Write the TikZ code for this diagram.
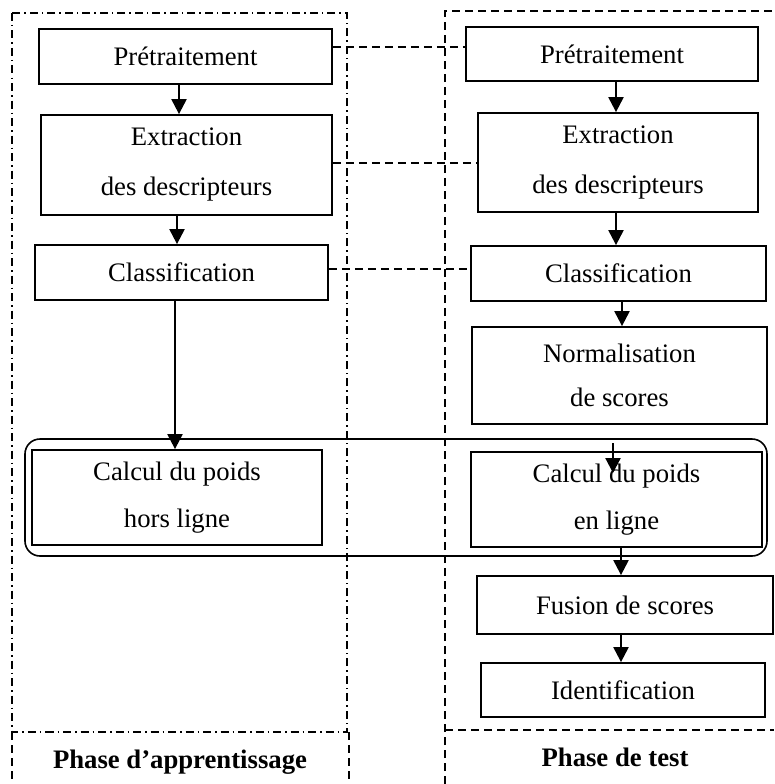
\documentclass[tikz,border=0pt]{standalone}
\usepackage{fontspec}
\setmainfont{Liberation Serif}
\usetikzlibrary{arrows.meta,calc}
\begin{document}
\begin{tikzpicture}[x=1pt,y=-1pt,
  box/.style={draw,line width=1.8pt,rectangle,inner sep=0pt,align=center,font=\fontsize{26.7}{47}\selectfont},
  arr/.style={line width=2.2pt,-{Triangle[length=15pt,width=15pt]}},
  dsh/.style={line width=1.3pt,dash pattern=on 8pt off 5pt},
  dshdot/.style={line width=1.3pt,dash pattern=on 8pt off 4pt on 1.5pt off 4pt},
  lbl/.style={font=\fontsize{26.7}{32}\selectfont\bfseries}]
\useasboundingbox (0,0) rectangle (774,784);
% frames
\draw[dshdot] (12,13) rectangle (347,732);
\draw[dsh] (12,732) -- (12,784);
\draw[dsh] (349,732) -- (349,784);
\draw[dsh] (445,784) -- (445,11) -- (774,11);
\draw[dsh] (445,730) -- (774,730);
\draw[line width=1.6pt,rounded corners=15pt] (25,439) rectangle (767,556);
% left column
\node[box,minimum width=293pt,minimum height=55pt] (pre1) at (185.5,56.5) {Prétraitement};
\node[box,minimum width=291pt,minimum height=100pt,font=\fontsize{26.7}{50}\selectfont] (ext1) at (186.5,165) {Extraction\\des descripteurs};
\node[box,minimum width=293pt,minimum height=55pt] (cls1) at (181.5,272.5) {Classification};
\node[box,minimum width=290pt,minimum height=95pt] (cal1) at (177,497.5) {Calcul du poids\\hors ligne};
% right column
\node[box,minimum width=292pt,minimum height=54pt] (pre2) at (612,54) {Prétraitement};
\node[box,minimum width=280pt,minimum height=99pt,font=\fontsize{26.7}{50}\selectfont] (ext2) at (618,162.5) {Extraction\\des descripteurs};
\node[box,minimum width=295pt,minimum height=55pt] (cls2) at (618.5,273.5) {Classification};
\node[box,minimum width=295pt,minimum height=97pt,font=\fontsize{26.7}{44}\selectfont] (norm) at (619.5,375.5) {Normalisation\\de scores};
\node[box,minimum width=291pt,minimum height=95pt] (cal2) at (616.5,499.5) {Calcul du poids\\en ligne};
\node[box,minimum width=296pt,minimum height=58pt] (fus) at (625,605) {Fusion de scores};
\node[box,minimum width=284pt,minimum height=54pt] (idf) at (623,690) {Identification};
% labels
\node[lbl] (lab1) at (180,762) {Phase d’apprentissage};
\node[lbl] (lab2) at (615,757) {Phase de test};
% arrows left
\draw[arr] ([xshift=-6.5pt]pre1.south) -- ([xshift=-6.5pt]pre1.south |- ext1.north);
\draw[arr] ([xshift=-9.5pt]ext1.south) -- ([xshift=-9.5pt]ext1.south |- cls1.north);
\draw[arr] ([xshift=-6.5pt]cls1.south) -- ([xshift=-6.5pt]cls1.south |- cal1.north);
% arrows right
\draw[arr] ([xshift=4pt]pre2.south) -- ([xshift=4pt]pre2.south |- ext2.north);
\draw[arr] ([xshift=-2pt]ext2.south) -- ([xshift=-2pt]ext2.south |- cls2.north);
\draw[arr] ([xshift=3.5pt]cls2.south) -- ([xshift=3.5pt]cls2.south |- norm.north);
\coordinate (ca) at (613,443);
\coordinate (cb) at (613,473);
\draw[arr] (ca) -- (cb);
\draw[arr] ([xshift=4.5pt]cal2.south) -- ([xshift=4.5pt]cal2.south |- fus.north);
\draw[arr] ([xshift=-4pt]fus.south) -- ([xshift=-4pt]fus.south |- idf.north);
% dashed links
\draw[dsh] ([yshift=9.5pt]pre1.east) -- ([yshift=9.5pt]pre1.east -| pre2.west);
\draw[dsh] ([yshift=2pt]ext1.east) -- ([yshift=2pt]ext1.east -| ext2.west);
\draw[dsh] ([yshift=3.5pt]cls1.east) -- ([yshift=3.5pt]cls1.east -| cls2.west);
\end{tikzpicture}
\end{document}
